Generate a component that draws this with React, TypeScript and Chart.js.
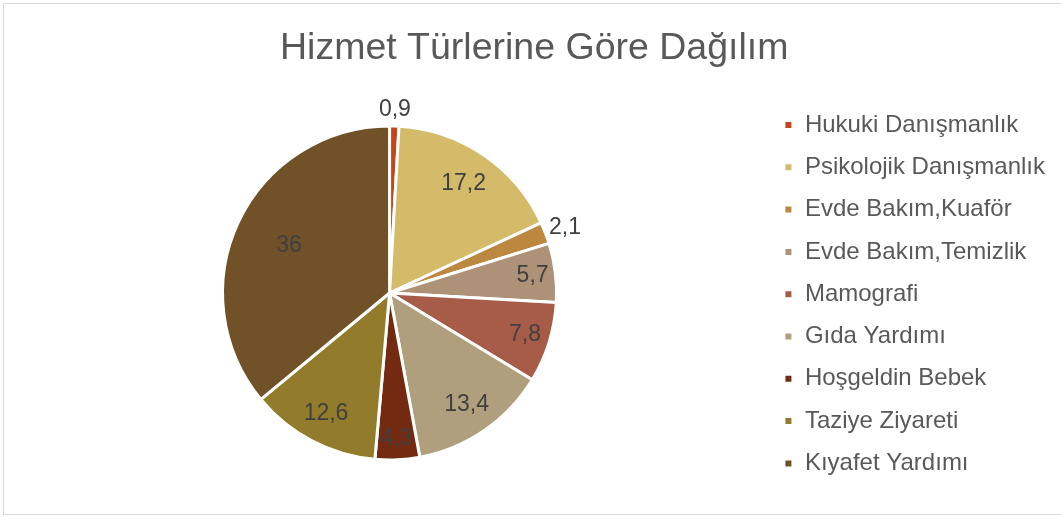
import React, { useEffect, useRef } from "react";
import { Chart, registerables } from "chart.js";

Chart.register(...registerables);

const categories = [
  "Hukuki Danışmanlık",
  "Psikolojik Danışmanlık",
  "Evde Bakım,Kuaför",
  "Evde Bakım,Temizlik",
  "Mamografi",
  "Gıda Yardımı",
  "Hoşgeldin Bebek",
  "Taziye Ziyareti",
  "Kıyafet Yardımı",
];

const values = [0.9, 17.2, 2.1, 5.7, 7.8, 13.4, 4.3, 12.6, 36];

const colors = [
  "#C4461C",
  "#D4BB6A",
  "#BC8840",
  "#AE9278",
  "#A65C46",
  "#AF9F7C",
  "#732A11",
  "#927C2C",
  "#705128",
];

const FONT = "'Liberation Sans', Arial, sans-serif";

const labelPlugin = {
  id: "sliceLabels",
  afterDatasetsDraw(chart: any) {
    const ctx = chart.ctx;
    const meta = chart.getDatasetMeta(0);
    const data = chart.data.datasets[0].data as number[];
    ctx.save();
    ctx.font = `23px ${FONT}`;
    ctx.fillStyle = "#404040";
    ctx.textAlign = "center";
    ctx.textBaseline = "middle";
    meta.data.forEach((arc: any, i: number) => {
      const { x, y, startAngle, endAngle, outerRadius } = arc.getProps(
        ["x", "y", "startAngle", "endAngle", "outerRadius"],
        true
      );
      const mid = (startAngle + endAngle) / 2;
      const v = data[i];
      const text = String(v).replace(".", ",");
      const c = Math.cos(mid);
      const s = Math.sin(mid);
      let lx: number;
      let ly: number;
      if (v < 3) {
        const w = ctx.measureText(text).width;
        const h = 22;
        const d = outerRadius + 5;
        lx = x + c * d + (w / 2) * c;
        ly = y + s * d + (h / 2) * s;
      } else {
        // larger slices keep their label nearer the centre (best-fit style)
        const r = outerRadius * (0.9 - 0.0065 * v);
        lx = x + c * r;
        ly = y + s * r;
      }
      ctx.fillText(text, lx, ly);
    });
    ctx.restore();
  },
};

export default function App() {
  const ref = useRef<HTMLCanvasElement | null>(null);

  useEffect(() => {
    document.body.style.margin = "0";
    document.body.style.overflow = "hidden";
    if (!ref.current) return;
    const chart = new Chart(ref.current, {
      type: "pie",
      data: {
        labels: categories,
        datasets: [
          {
            data: values,
            backgroundColor: colors,
            borderColor: "#ffffff",
            borderWidth: 3,
            radius: 167,
          } as any,
        ],
      },
      options: {
        responsive: false,
        animation: false,
        radius: 167,
        layout: { padding: { left: 9.5, right: 15, top: 0, bottom: 0 } },
        plugins: {
          title: {
            display: true,
            text: "Hizmet Türlerine Göre Dağılım",
            color: "#595959",
            font: { family: FONT, size: 37.5, weight: "normal" },
            padding: { top: 22, bottom: 1 },
          },
          legend: {
            position: "right",
            align: "start",
            title: {
              display: true,
              text: " ",
              font: { size: 12 },
              padding: { top: 0, bottom: 76.3 },
            },
            labels: {
              color: "#595959",
              font: { family: FONT, size: 24 },
              boxWidth: 9,
              boxHeight: 9,
              padding: 18.3,
            },
          },
          tooltip: { enabled: false },
        },
      } as any,
      plugins: [labelPlugin],
    });
    return () => chart.destroy();
  }, []);

  return (
    <div style={{ width: 1061, height: 517, overflow: "hidden", position: "relative", background: "#fff" }}>
      <div
        style={{
          position: "absolute",
          left: 3,
          top: 3,
          width: 1066,
          height: 510,
          border: "1px solid #d9d9d9",
          background: "#fff",
        }}
      >
        <canvas ref={ref} width={1066} height={510} style={{ display: "block" }} />
      </div>
    </div>
  );
}
